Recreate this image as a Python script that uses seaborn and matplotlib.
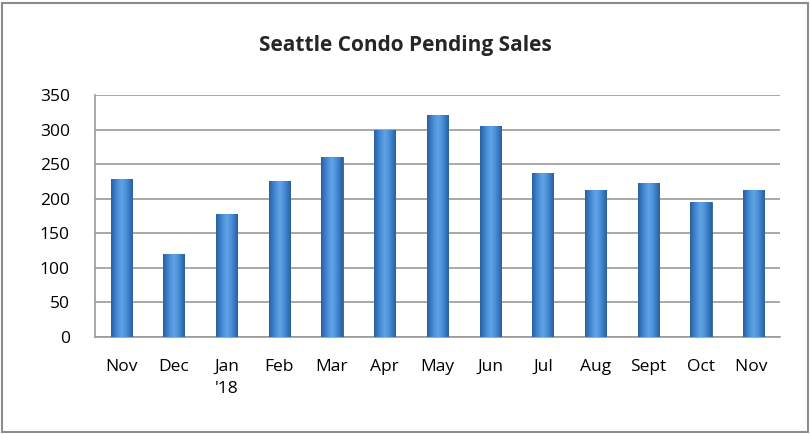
import numpy as np
import pandas as pd
import matplotlib
matplotlib.use("Agg")
import matplotlib.pyplot as plt
import seaborn as sns
from matplotlib.colors import LinearSegmentedColormap
from matplotlib.patches import Rectangle

months = ["Nov", "Dec", "Jan\n'18", "Feb", "Mar", "Apr", "May", "Jun", "Jul", "Aug", "Sept", "Oct", "Nov "]
pending = [228, 120, 178, 225, 261, 300, 321, 305, 237, 212, 223, 196, 213]
y_ticks = [0, 50, 100, 150, 200, 250, 300, 350]
title = "Seattle Condo Pending Sales"

df = pd.DataFrame({"month": months, "pending": pending})

sns.set_theme(style="white")
plt.rcParams["font.family"] = ["Open Sans", "DejaVu Sans"]

fig = plt.figure(figsize=(8.1, 4.34), dpi=100)
ax = fig.add_axes([0.117, 0.2235, 0.846, 0.5575])

sns.barplot(data=df, x="month", y="pending", color="#4187d4", width=0.4,
            edgecolor="#2b5f9c", linewidth=0.6, ax=ax, zorder=3)

# cylinder-like horizontal gradient inside each bar
cmap = LinearSegmentedColormap.from_list(
    "cyl", ["#2b5f9e", "#4288d4", "#62a5e6", "#4288d4", "#2b5f9e"])
grad = np.linspace(0, 1, 64).reshape(1, -1)
for p in ax.patches:
    x0, y0 = p.get_x(), p.get_y()
    w, h = p.get_width(), p.get_height()
    im = ax.imshow(grad, cmap=cmap, aspect="auto",
                   extent=[x0, x0 + w, y0, y0 + h], zorder=4,
                   interpolation="bicubic")
    im.set_clip_path(p)

ax.set_xlim(-0.5, len(months) - 0.5)
ax.set_ylim(0, 350)
ax.set_yticks(y_ticks)
ax.set_yticklabels([str(v) for v in y_ticks])
ax.yaxis.grid(True, color="#9a9a9a", linewidth=1.2, zorder=0)
ax.set_axisbelow(True)
ax.set_xlabel("")
ax.set_ylabel("")
ax.tick_params(axis="y", labelsize=12.5, pad=18, length=0, colors="black")
ax.tick_params(axis="x", labelsize=12.5, pad=16, length=0, colors="black")
for lab in ax.get_xticklabels():
    lab.set_verticalalignment("top")
    lab.set_linespacing(1.45)

for side in ["top", "right"]:
    ax.spines[side].set_visible(False)
for side in ["left", "bottom"]:
    ax.spines[side].set_color("#9a9a9a")
    ax.spines[side].set_linewidth(1.2)

fig.text(0.5, 0.895, title, ha="center", va="center", fontsize=15, fontweight="bold")

fig.patches.append(Rectangle((0.003, 0.004), 0.994, 0.99, transform=fig.transFigure,
                             fill=False, edgecolor="#8c8c8c", linewidth=1.5))

fig.savefig("out.png", dpi=100)
